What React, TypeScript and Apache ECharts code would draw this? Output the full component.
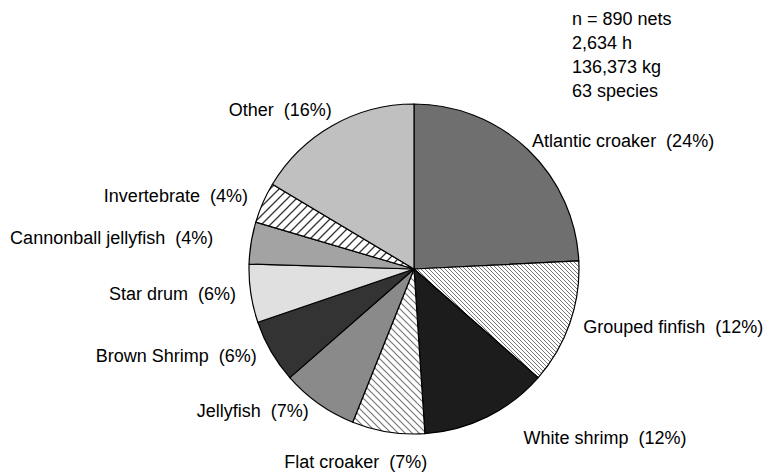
import React, { useEffect, useRef } from "react";
import * as echarts from "echarts";

// Categories, clockwise from 12 o'clock
const categories = [
  "Atlantic croaker",
  "Grouped finfish",
  "White shrimp",
  "Flat croaker",
  "Jellyfish",
  "Brown Shrimp",
  "Star drum",
  "Cannonball jellyfish",
  "Invertebrate",
  "Other",
];
// Shares (%)
const shares = [24.2, 12.2, 12.5, 7.1, 7.5, 6.2, 5.7, 4.1, 4.0, 16.4];
// Percentages as printed in labels
const labelPercents = [24, 12, 12, 7, 7, 6, 6, 4, 4, 16];
// Summary text lines
const summaryLines = ["n = 890 nets", "2,634 h", "136,373 kg", "63 species"];

// Styles (fill colours / pattern specs) per slice
const fills: (string | { dir: "back" | "fwd"; size: number; color: string; width: number })[] = [
  "#6f6f6f",
  { dir: "back", size: 4, color: "#666", width: 0.9 },
  "#1c1c1c",
  { dir: "back", size: 7, color: "#777", width: 1.2 },
  "#8a8a8a",
  "#333333",
  "#e0e0e0",
  "#a3a3a3",
  { dir: "fwd", size: 9, color: "#333", width: 1.3 },
  "#c0c0c0",
];
// Label nudges relative to default outside placement
const labelNudges: [number, number][] = [
  [-9, 0],
  [-3, 0],
  [26, 10],
  [46, 18],
  [2, -2],
  [1, -2],
  [2, -1],
  [-21, -3],
  [1, -2],
  [10, -5],
];

function makePattern(dir: "back" | "fwd", s: number, color: string, width: number) {
  const c = document.createElement("canvas");
  c.width = s;
  c.height = s;
  const ctx = c.getContext("2d")!;
  ctx.fillStyle = "#fff";
  ctx.fillRect(0, 0, s, s);
  ctx.strokeStyle = color;
  ctx.lineWidth = width;
  ctx.beginPath();
  if (dir === "back") {
    ctx.moveTo(-1, -1);
    ctx.lineTo(s + 1, s + 1);
    ctx.moveTo(-1, s - 1);
    ctx.lineTo(1, s + 1);
    ctx.moveTo(s - 1, -1);
    ctx.lineTo(s + 1, 1);
  } else {
    ctx.moveTo(-1, s + 1);
    ctx.lineTo(s + 1, -1);
    ctx.moveTo(-1, 1);
    ctx.lineTo(1, -1);
    ctx.moveTo(s - 1, s + 1);
    ctx.lineTo(s + 1, s - 1);
  }
  ctx.stroke();
  return { image: c, repeat: "repeat" as const };
}

export default function App() {
  const ref = useRef<HTMLDivElement>(null);
  useEffect(() => {
    document.body.style.margin = "0";
    if (!ref.current) return;
    const chart = echarts.init(ref.current, undefined, { renderer: "svg" });
    const font = "'Liberation Sans', Arial, Helvetica, sans-serif";
    const data = categories.map((name, i) => {
      const f = fills[i];
      const color = typeof f === "string" ? f : makePattern(f.dir, f.size, f.color, f.width);
      return { name, value: shares[i], itemStyle: { color } };
    });
    chart.setOption({
      animation: false,
      backgroundColor: "#fff",
      title: {
        text: summaryLines.join("\n"),
        left: 572,
        top: 7,
        padding: 0,
        textStyle: {
          fontFamily: font,
          fontSize: 18,
          fontWeight: "normal",
          color: "#000",
          lineHeight: 24,
        },
      },
      series: [
        {
          type: "pie",
          center: [414, 269],
          radius: [0, 165],
          startAngle: 90,
          clockwise: true,
          avoidLabelOverlap: false,
          silent: true,
          itemStyle: { borderColor: "#000", borderWidth: 1.2 },
          label: {
            show: true,
            position: "outside",
            fontFamily: font,
            fontSize: 18,
            color: "#000",
            distanceToLabelLine: 5,
            formatter: (p: any) => `${p.name}  (${labelPercents[p.dataIndex]}%)`,
          },
          labelLine: { show: false, length: 12, length2: 0 },
          labelLayout: (p: any) => {
            const n = labelNudges[p.dataIndex];
            return { dx: n[0], dy: n[1] };
          },
          emphasis: { disabled: true },
          data,
        },
      ],
    });
    return () => chart.dispose();
  }, []);
  return <div ref={ref} style={{ width: 765, height: 472 }} />;
}
